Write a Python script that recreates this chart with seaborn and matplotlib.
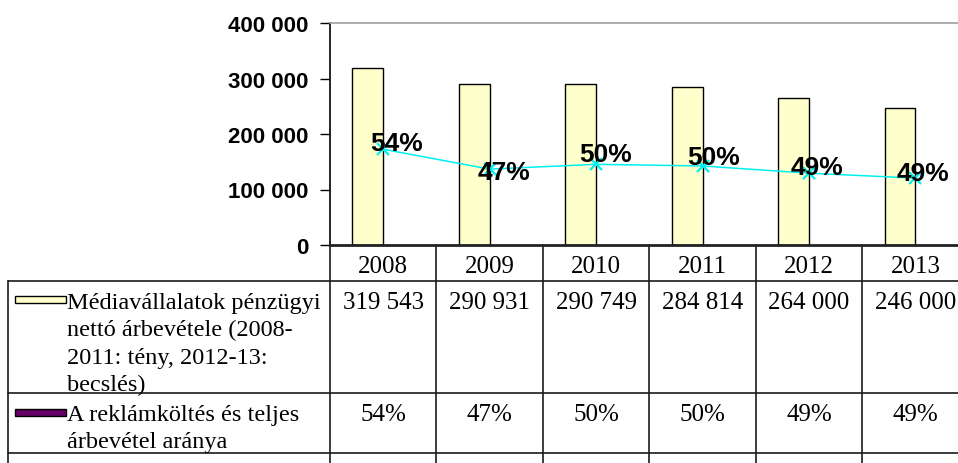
import matplotlib
matplotlib.use("Agg")
import matplotlib.pyplot as plt
import matplotlib.transforms as mtransforms
import seaborn as sns
import pandas as pd
import numpy as np

# Data
years = ["2008", "2009", "2010", "2011", "2012", "2013"]
revenue = [319543, 290931, 290749, 284814, 264000, 246000]
revenue_labels = ["319 543", "290 931", "290 749", "284 814", "264 000", "246 000"]
ad_ratio = [0.54, 0.47, 0.50, 0.50, 0.49, 0.49]
yticks = [0, 100000, 200000, 300000, 400000]
ytick_labels = ["0", "100 000", "200 000", "300 000", "400 000"]
row1_lines = ["Médiavállalatok pénzügyi", "nettó árbevétele (2008-",
              "2011: tény, 2012-13:", "becslés)"]
row2_lines = ["A reklámköltés és teljes", "árbevétel aránya"]

sns.set_theme(style="white")
plt.rcParams["font.family"] = ["Liberation Sans", "DejaVu Sans"]

W, H = 958, 464
fig = plt.figure(figsize=(W / 100, H / 100), dpi=100)

# full-figure overlay in pixel coordinates for the data table
ov = fig.add_axes([0, 0, 1, 1])
ov.set_xlim(0, W)
ov.set_ylim(H, 0)
ov.axis("off")

# chart axes (plot area runs past the right edge of the figure)
x0, x1, ytop, ybot = 330, 968.6, 24, 246
ax = fig.add_axes([x0 / W, (H - ybot) / H, (x1 - x0) / W, (ybot - ytop) / H])
ax.patch.set_alpha(0)

df = pd.DataFrame({"year": years, "revenue": revenue, "ratio": ad_ratio})
df["ad"] = df["revenue"] * df["ratio"]
df["pos"] = np.arange(len(years))

bw = 0.29
sns.barplot(data=df, x="pos", y="revenue", native_scale=True, width=bw,
            color="#FFFFCC", saturation=1, edgecolor="black", linewidth=1.0, ax=ax)
for p in ax.patches:
    p.set_x(p.get_x() - bw / 2)

sns.lineplot(data=df, x="pos", y="ad", color="#00F0F0", linewidth=1.1,
             marker="x", markersize=8, markeredgewidth=1.6,
             markeredgecolor="#00F0F0", ax=ax)

# percentage labels next to the line points
label_dx = [13, 14, 10, 11, 8, 8]
label_dy = [6, -3, 10, 9, 6, 5]
for i, r in enumerate(ad_ratio):
    ax.annotate(f"{round(r * 100):d}%", (df["pos"][i], df["ad"][i]),
                xytext=(label_dx[i] * 0.72, label_dy[i] * 0.72), textcoords="offset points",
                ha="center", va="center", fontsize=19, fontweight="bold", color="black")

ax.set_xlim(-0.5, 5.5)
ax.set_ylim(0, 400000)
ax.set_yticks(yticks)
ax.set_yticklabels(ytick_labels, fontsize=16, fontweight="bold", color="black")
ax.set_xticks([])
ax.set_xlabel("")
ax.set_ylabel("")
ax.tick_params(axis="y", direction="out", length=7.2, width=1.0, color="black",
               left=True, pad=8.5)
ax.spines["right"].set_visible(False)
ax.spines["left"].set_color("black")
ax.spines["left"].set_linewidth(1.2)
ax.spines["top"].set_color("#A0A0A0")
ax.spines["top"].set_linewidth(1.2)
ax.spines["bottom"].set_color("#222222")
ax.spines["bottom"].set_linewidth(2.0)

# data table below the chart
bt = mtransforms.blended_transform_factory(ax.transData, ov.transData)
serif = ["Liberation Serif", "DejaVu Serif"]
tfs = 18
line_c = "#1a1a1a"
y_hdr_bot, y_r1_bot, y_r2_bot = 282, 394, 454

for b in np.arange(-0.5, 6.0, 1.0):
    ov.plot([b, b], [ybot, H], transform=bt, color=line_c, lw=1.2, clip_on=False)
for yy in [y_hdr_bot, y_r1_bot, y_r2_bot]:
    ov.plot([8, W], [yy, yy], color=line_c, lw=1.2)
ov.plot([8, 8], [y_hdr_bot, H], color=line_c, lw=1.2)

for i, yr in enumerate(years):
    ov.text(i, 265, yr, transform=bt, ha="center", va="center_baseline",
            fontsize=tfs, family=serif, color="black")
    ov.text(i, 301, revenue_labels[i], transform=bt, ha="center", va="center_baseline",
            fontsize=tfs, family=serif, color="black")
    ov.text(i, 413, f"{round(ad_ratio[i] * 100):d}%", transform=bt, ha="center",
            va="center_baseline", fontsize=tfs, family=serif, color="black")

# legend keys and row captions
ov.add_patch(plt.Rectangle((15, 297), 51, 6.5, facecolor="#FFFFCC", edgecolor="black", lw=1.0))
ov.add_patch(plt.Rectangle((15, 410), 51, 6.5, facecolor="#660066", edgecolor="black", lw=1.0))
for k, txt in enumerate(row1_lines):
    ov.text(67, 301 + k * 27.3, txt, ha="left", va="center_baseline", fontsize=17.5,
            family=serif, color="black")
for k, txt in enumerate(row2_lines):
    ov.text(67, 413 + k * 27.3, txt, ha="left", va="center_baseline", fontsize=17.5,
            family=serif, color="black")

fig.savefig("out.png", dpi=100)
